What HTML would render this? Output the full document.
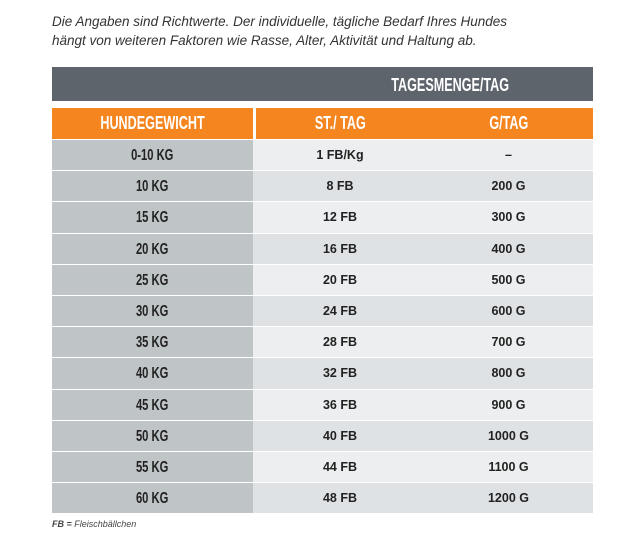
<!DOCTYPE html>
<html><head><meta charset="utf-8"><style>
body{margin:0;width:626px;height:552px;background:#fff;position:relative;font-family:"Liberation Sans",sans-serif;overflow:hidden}
.intro{position:absolute;left:52px;top:12px;font-size:13.5px;font-style:italic;color:#333;line-height:19px}
.dark{position:absolute;left:52px;top:67px;width:541px;height:34px;background:#5e646b}
.dt{position:absolute;left:255px;width:286px;top:0;line-height:36px;text-align:center;color:#fff;font-weight:bold;font-size:18px}
.cond{display:inline-block;transform:scaleX(.7);transform-origin:center}
.row{position:absolute;left:52px;width:541px;height:30.2px}
.c{position:absolute;top:0;height:100%;text-align:center;line-height:31px}
.c1{left:0;width:201px;background:#bfc4c6;font-weight:bold;font-size:16px;color:#222}
.c2{left:204px;width:168px;font-weight:bold;font-size:12.5px;color:#222}
.c3{left:372px;width:169px;font-weight:bold;font-size:12.5px;color:#222}
.hdr .c1{background:#f5851f;color:#fff;font-size:18px}
.foot{position:absolute;left:52px;top:519px;font-size:9px;font-style:italic;color:#444}
</style></head><body>
<div class="intro">Die Angaben sind Richtwerte. Der individuelle, tägliche Bedarf Ihres Hundes<br>hängt von weiteren Faktoren wie Rasse, Alter, Aktivität und Haltung ab.</div>
<div class="dark"><div class="dt"><span class="cond">TAGESMENGE/TAG</span></div></div>
<div class="row hdr" style="top:108px;height:31px"><div class="c c1"><span class="cond">HUNDEGEWICHT</span></div><div class="c" style="left:204px;width:337px;background:#f5851f"></div><div class="c" style="left:204px;width:168px;color:#fff;font-weight:bold;font-size:18px;line-height:31px"><span class="cond">ST./ TAG</span></div><div class="c" style="left:372px;width:169px;color:#fff;font-weight:bold;font-size:18px;line-height:31px"><span class="cond">G/TAG</span></div></div>
<div id="rows"></div>
<div class="foot"><b>FB =</b> Fleischbällchen</div>
<script>
var d=[["0-10 KG","1 FB/Kg","–"],["10 KG","8 FB","200 G"],["15 KG","12 FB","300 G"],["20 KG","16 FB","400 G"],["25 KG","20 FB","500 G"],["30 KG","24 FB","600 G"],["35 KG","28 FB","700 G"],["40 KG","32 FB","800 G"],["45 KG","36 FB","900 G"],["50 KG","40 FB","1000 G"],["55 KG","44 FB","1100 G"],["60 KG","48 FB","1200 G"]];
var h="";d.forEach(function(r,i){var bg=i%2?"#dfe2e4":"#eceeef";h+='<div class="row" style="top:'+(140+i*31.2)+'px;background:'+bg+';"><div class="c c1"><span class="cond">'+r[0]+'</span></div><div class="c c2">'+r[1]+'</div><div class="c c3">'+r[2]+'</div></div>';});
document.getElementById("rows").innerHTML=h;
</script>
</body></html>
